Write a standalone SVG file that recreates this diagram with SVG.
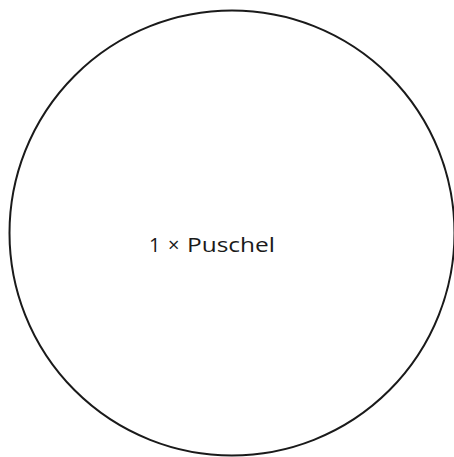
<svg xmlns="http://www.w3.org/2000/svg" width="454" height="457" viewBox="0 0 454 457">
<style>
.node circle{fill:#fff;stroke:#1a1a1a;stroke-width:2}
.node text{font-family:"Open Sans","Noto Sans",sans-serif;font-size:20px;fill:#1a1a1a}
</style>
<rect width="454" height="457" fill="#fff"/>
<g id="node1" class="node">
<circle cx="232" cy="233" r="222.5"/>
<text y="252"><tspan x="149">1</tspan><tspan x="168">×</tspan><tspan x="187" textLength="88" lengthAdjust="spacingAndGlyphs">Puschel</tspan></text>
</g>
<g id="connectors"></g>
</svg>
